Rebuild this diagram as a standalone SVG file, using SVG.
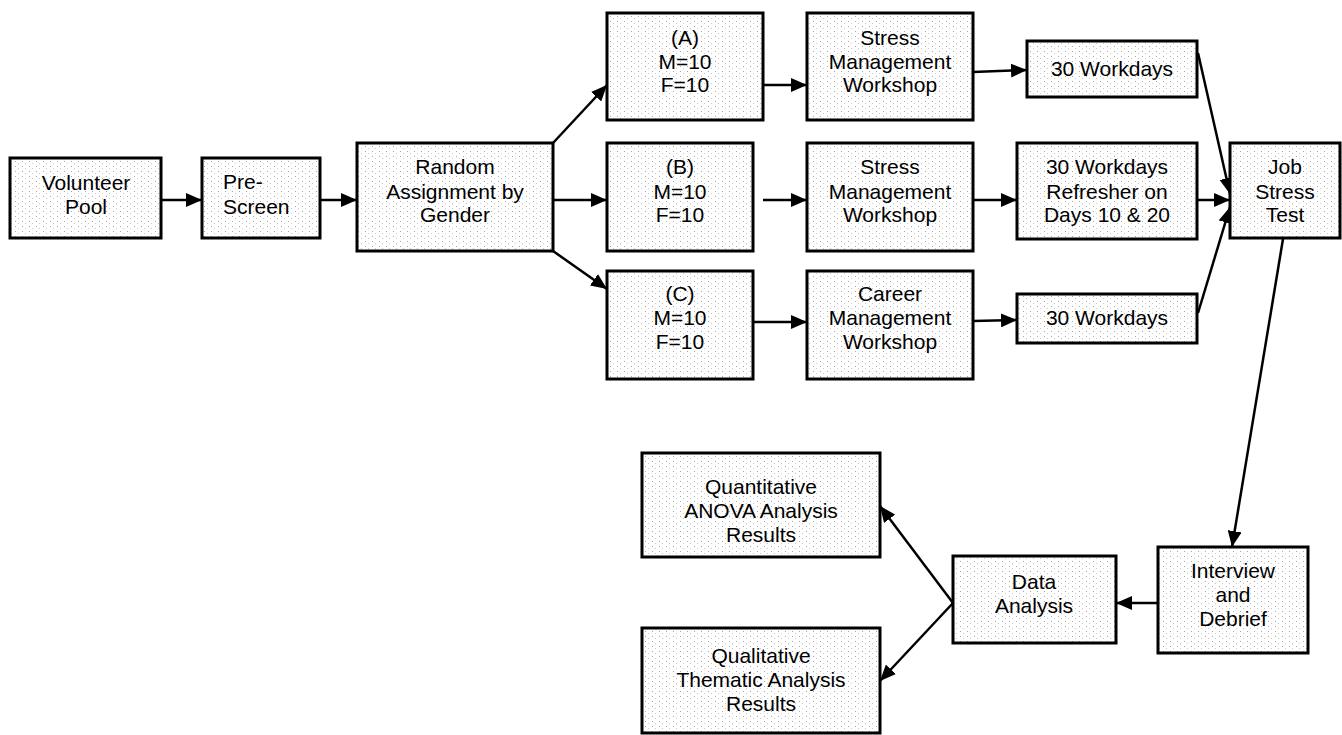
<svg xmlns="http://www.w3.org/2000/svg" width="1342" height="735" viewBox="0 0 1342 735">
  <defs>
    <pattern id="dots" width="7" height="5" patternUnits="userSpaceOnUse">
      <rect width="7" height="5" fill="#ffffff"/>
      <rect x="1" y="1" width="1" height="1" fill="#a8a8a8"/>
      <rect x="4" y="3" width="1" height="1" fill="#c8c8c8"/>
    </pattern>
    <marker id="arr" markerUnits="userSpaceOnUse" markerWidth="17" markerHeight="14" refX="16" refY="7" orient="auto">
      <path d="M0,0 L16,7 L0,14 z" fill="#000"/>
    </marker>
  </defs>
  <style>
    .box { fill: url(#dots); stroke: #000; stroke-width: 3; }
    .t { font-family: "Liberation Sans", Arial, sans-serif; font-size: 21px; fill: #000; text-anchor: middle; }
    .tl { font-family: "Liberation Sans", Arial, sans-serif; font-size: 21px; fill: #000; }
    .c { stroke: #000; stroke-width: 2.5; fill: none; marker-end: url(#arr); }
  </style>
  <rect width="1342" height="735" fill="#fff"/>

  <g id="connectors">
    <line class="c" x1="161" y1="200" x2="202" y2="200"/>
    <line class="c" x1="320" y1="200" x2="357" y2="200"/>
    <line class="c" x1="553" y1="143" x2="607" y2="85"/>
    <line class="c" x1="553" y1="200" x2="607" y2="200"/>
    <line class="c" x1="553" y1="251" x2="607" y2="289"/>
    <line class="c" x1="752" y1="85" x2="807" y2="85"/>
    <line class="c" x1="763" y1="200" x2="807" y2="200"/>
    <line class="c" x1="753" y1="322" x2="807" y2="322"/>
    <line class="c" x1="973" y1="72" x2="1027" y2="70"/>
    <line class="c" x1="973" y1="200" x2="1017" y2="200"/>
    <line class="c" x1="973" y1="321" x2="1017" y2="320"/>
    <line class="c" x1="1198" y1="53" x2="1230" y2="194"/>
    <line class="c" x1="1197" y1="200" x2="1230" y2="200"/>
    <line class="c" x1="1198" y1="313" x2="1230" y2="207"/>
    <line class="c" x1="1283" y1="239" x2="1232" y2="547"/>
    <line class="c" x1="1158" y1="603" x2="1116" y2="603"/>
    <line class="c" x1="953" y1="603" x2="880" y2="506"/>
    <line class="c" x1="953" y1="603" x2="880" y2="681"/>
  </g>

  <g id="volunteer">
    <rect class="box" x="10" y="158" width="151" height="80"/>
    <text class="t" x="86" y="190">Volunteer</text>
    <text class="t" x="86" y="214">Pool</text>
  </g>
  <g id="prescreen">
    <rect class="box" x="202" y="158" width="118" height="80"/>
    <text class="tl" x="223" y="189">Pre-</text>
    <text class="tl" x="223" y="214">Screen</text>
  </g>
  <g id="random">
    <rect class="box" x="357" y="143" width="196" height="108"/>
    <text class="t" x="455" y="174">Random</text>
    <text class="t" x="455" y="199">Assignment by</text>
    <text class="t" x="455" y="222">Gender</text>
  </g>
  <g id="groupA">
    <rect class="box" x="607" y="13" width="156" height="107"/>
    <text class="t" x="685" y="45">(A)</text>
    <text class="t" x="685" y="69">M=10</text>
    <text class="t" x="685" y="92">F=10</text>
  </g>
  <g id="groupB">
    <rect class="box" x="607" y="143" width="146" height="108"/>
    <text class="t" x="680" y="174">(B)</text>
    <text class="t" x="680" y="199">M=10</text>
    <text class="t" x="680" y="222">F=10</text>
  </g>
  <g id="groupC">
    <rect class="box" x="607" y="271" width="146" height="108"/>
    <text class="t" x="680" y="301">(C)</text>
    <text class="t" x="680" y="325">M=10</text>
    <text class="t" x="680" y="349">F=10</text>
  </g>
  <g id="stressA">
    <rect class="box" x="807" y="13" width="166" height="107"/>
    <text class="t" x="890" y="45">Stress</text>
    <text class="t" x="890" y="69">Management</text>
    <text class="t" x="890" y="92">Workshop</text>
  </g>
  <g id="stressB">
    <rect class="box" x="807" y="143" width="166" height="108"/>
    <text class="t" x="890" y="174">Stress</text>
    <text class="t" x="890" y="199">Management</text>
    <text class="t" x="890" y="222">Workshop</text>
  </g>
  <g id="career">
    <rect class="box" x="807" y="271" width="166" height="108"/>
    <text class="t" x="890" y="301">Career</text>
    <text class="t" x="890" y="325">Management</text>
    <text class="t" x="890" y="349">Workshop</text>
  </g>
  <g id="workdaysA">
    <rect class="box" x="1027" y="41" width="170" height="56"/>
    <text class="t" x="1112" y="76">30 Workdays</text>
  </g>
  <g id="workdaysB">
    <rect class="box" x="1017" y="143" width="180" height="96"/>
    <text class="t" x="1107" y="174">30 Workdays</text>
    <text class="t" x="1107" y="199">Refresher on</text>
    <text class="t" x="1107" y="222">Days 10 &amp; 20</text>
  </g>
  <g id="workdaysC">
    <rect class="box" x="1017" y="294" width="180" height="49"/>
    <text class="t" x="1107" y="325">30 Workdays</text>
  </g>
  <g id="jobstress">
    <rect class="box" x="1230" y="143" width="110" height="95"/>
    <text class="t" x="1285" y="174">Job</text>
    <text class="t" x="1285" y="199">Stress</text>
    <text class="t" x="1285" y="222">Test</text>
  </g>
  <g id="interview">
    <rect class="box" x="1158" y="547" width="150" height="106"/>
    <text class="t" x="1233" y="578">Interview</text>
    <text class="t" x="1233" y="602">and</text>
    <text class="t" x="1233" y="626">Debrief</text>
  </g>
  <g id="data">
    <rect class="box" x="953" y="556" width="163" height="87"/>
    <text class="t" x="1034" y="589">Data</text>
    <text class="t" x="1034" y="613">Analysis</text>
  </g>
  <g id="quant">
    <rect class="box" x="642" y="453" width="238" height="104"/>
    <text class="t" x="761" y="494">Quantitative</text>
    <text class="t" x="761" y="518">ANOVA Analysis</text>
    <text class="t" x="761" y="542">Results</text>
  </g>
  <g id="qual">
    <rect class="box" x="642" y="628" width="238" height="105"/>
    <text class="t" x="761" y="663">Qualitative</text>
    <text class="t" x="761" y="687">Thematic Analysis</text>
    <text class="t" x="761" y="711">Results</text>
  </g>
</svg>
